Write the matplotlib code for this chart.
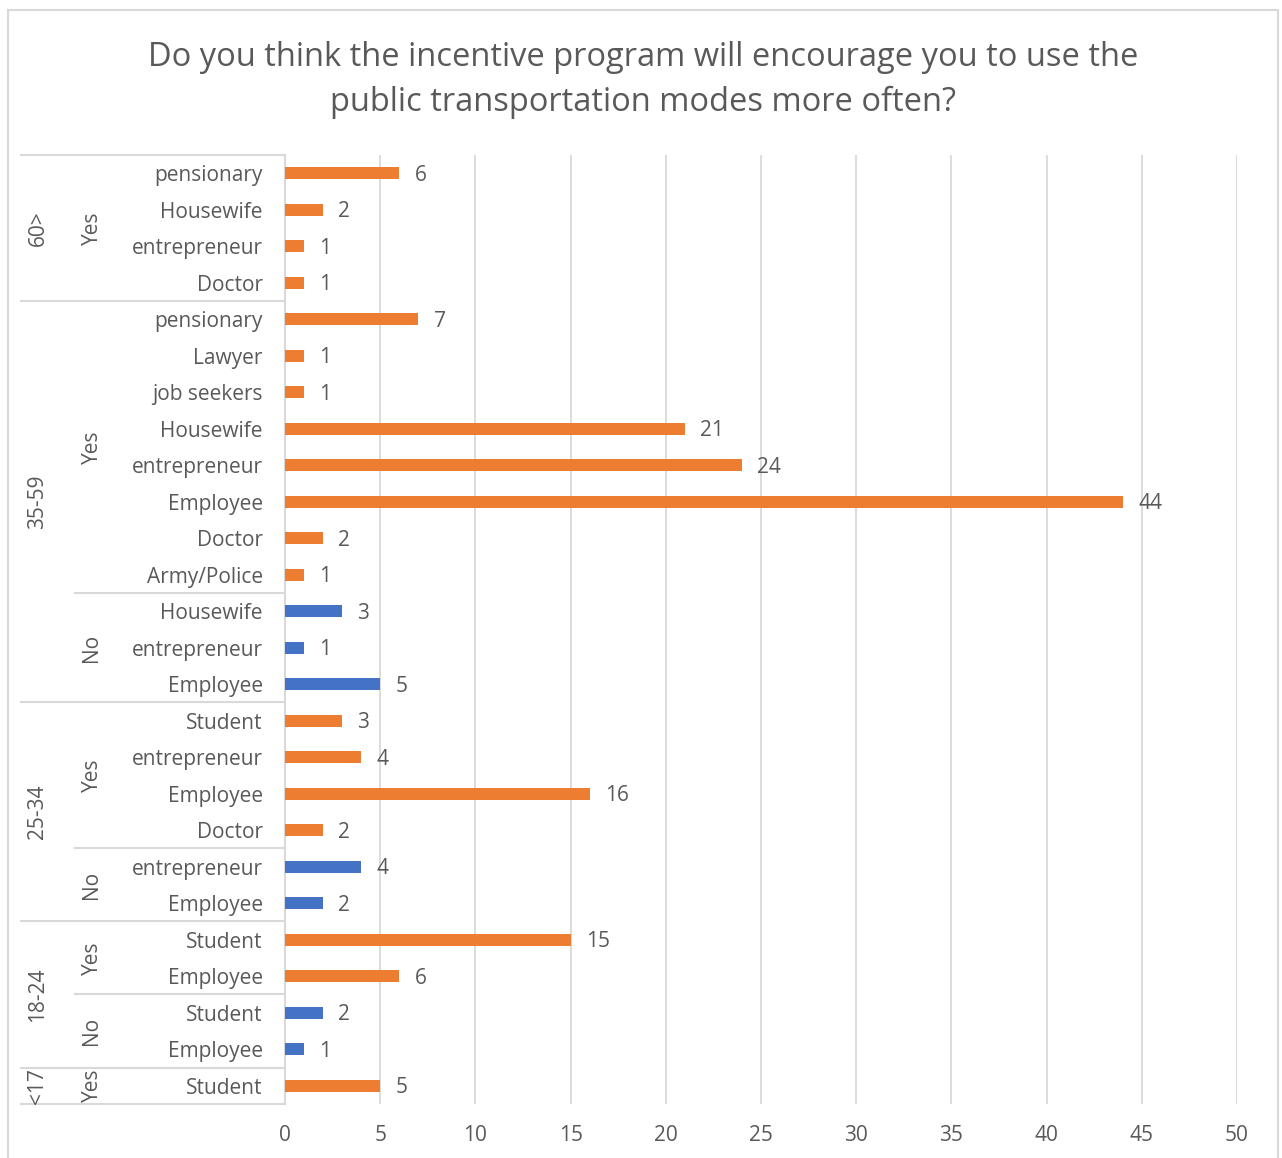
import matplotlib.pyplot as plt
from matplotlib.transforms import blended_transform_factory
from matplotlib.patches import Rectangle
from itertools import groupby

plt.rcParams['font.family'] = ['Open Sans', 'DejaVu Sans']

title = ('Do you think the incentive program will encourage you to use the\n'
         'public transportation modes more often?')

# rows from top to bottom
age_groups = ['60>'] * 4 + ['35-59'] * 11 + ['25-34'] * 6 + ['18-24'] * 4 + ['<17']
answers = (['Yes'] * 4 + ['Yes'] * 8 + ['No'] * 3 + ['Yes'] * 4 + ['No'] * 2
           + ['Yes'] * 2 + ['No'] * 2 + ['Yes'])
occupations = ['pensionary', 'Housewife', 'entrepreneur', 'Doctor',
               'pensionary', 'Lawyer', 'job seekers', 'Housewife', 'entrepreneur',
               'Employee', 'Doctor', 'Army/Police',
               'Housewife', 'entrepreneur', 'Employee',
               'Student', 'entrepreneur', 'Employee', 'Doctor',
               'entrepreneur', 'Employee',
               'Student', 'Employee',
               'Student', 'Employee',
               'Student']
counts = [6, 2, 1, 1,
          7, 1, 1, 21, 24, 44, 2, 1,
          3, 1, 5,
          3, 4, 16, 2,
          4, 2,
          15, 6,
          2, 1,
          5]

answer_colors = {'Yes': '#ED7D31', 'No': '#4472C4'}
text_color = '#595959'
line_color = '#D9D9D9'
fs = 15

W, H = 1282, 1158
fig = plt.figure(figsize=(W / 100, H / 100), dpi=100)
ax = fig.add_axes([285 / W, 1 - 1104 / H, 952 / W, 949 / H])

n = len(counts)
ypos = list(range(n))
ax.barh(ypos, counts, height=0.33, color=[answer_colors[a] for a in answers], zorder=3)
for y, v in zip(ypos, counts):
    ax.annotate(str(v), (v, y), xytext=(11, -1.5), textcoords='offset points',
                va='center', ha='left', fontsize=fs, color=text_color)

ax.set_xlim(0, 50)
ax.set_xticks(range(0, 51, 5))
ax.set_ylim(n - 0.5, -0.5)
ax.set_yticks(ypos)
ax.set_yticklabels(occupations)
ax.xaxis.grid(True, color=line_color, lw=1.3, zorder=0)
ax.set_axisbelow(True)
for s in ['top', 'right', 'bottom']:
    ax.spines[s].set_visible(False)
ax.spines['left'].set_color(line_color)
ax.spines['left'].set_linewidth(1.5)
ax.tick_params(axis='both', length=0, colors=text_color, labelsize=fs)
ax.tick_params(axis='y', pad=16)
ax.tick_params(axis='x', pad=15)

# multi-level category axis
trans = blended_transform_factory(ax.transAxes, ax.transData)
x_age_line = (21 - 285) / 952
x_ans_line = (75 - 285) / 952
x_age_text = (38 - 285) / 952
x_ans_text = (92 - 285) / 952

i = 0
for age, grp in groupby(age_groups):
    size = len(list(grp))
    ax.plot([x_age_line, 0], [i - 0.5, i - 0.5], transform=trans, color=line_color,
            lw=1.5, clip_on=False)
    ax.text(x_age_text, i + (size - 1) / 2, age, transform=trans, rotation=90,
            ha='center', va='center', fontsize=fs, color=text_color)
    i += size
ax.plot([x_age_line, 0], [n - 0.5, n - 0.5], transform=trans, color=line_color,
        lw=1.5, clip_on=False)

age_starts = set()
i = 0
for age, grp in groupby(age_groups):
    age_starts.add(i)
    i += len(list(grp))

i = 0
for (age, ans), grp in groupby(zip(age_groups, answers)):
    size = len(list(grp))
    if i not in age_starts:
        ax.plot([x_ans_line, 0], [i - 0.5, i - 0.5], transform=trans, color=line_color,
                lw=1.5, clip_on=False)
    ax.text(x_ans_text, i + (size - 1) / 2, ans, transform=trans, rotation=90,
            ha='center', va='center', fontsize=fs, color=text_color)
    i += size

fig.text(643.5 / W, 1 - 80 / H, title, ha='center', va='center', fontsize=23.5,
         color=text_color, linespacing=1.45)

fig.add_artist(Rectangle((8 / W, -0.01), 1270 / W, 1.01 - 10 / H, fill=False,
                         edgecolor=line_color, lw=1.5, transform=fig.transFigure))

fig.savefig('out.png', dpi=100)
